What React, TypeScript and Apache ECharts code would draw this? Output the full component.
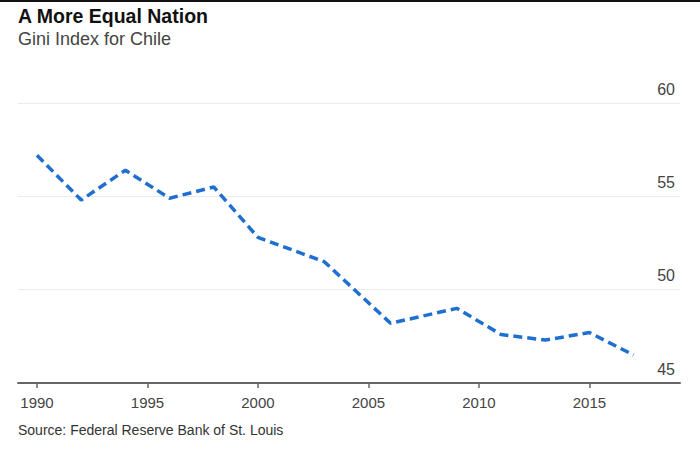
import React, { useEffect, useRef } from "react";
import * as echarts from "echarts";

const years = [1990, 1992, 1994, 1996, 1998, 2000, 2003, 2006, 2009, 2011, 2013, 2015, 2017];
const gini = [57.2, 54.8, 56.4, 54.9, 55.5, 52.8, 51.5, 48.2, 49.0, 47.6, 47.3, 47.7, 46.5];
const xTicks = [1990, 1995, 2000, 2005, 2010, 2015];
const yTicks = [45, 50, 55, 60];

const title = "A More Equal Nation";
const subtitle = "Gini Index for Chile";
const source = "Source: Federal Reserve Bank of St. Louis";

export default function App() {
  const ref = useRef<HTMLDivElement>(null);
  useEffect(() => {
    if (!ref.current) return;
    const chart = echarts.init(ref.current, null, { renderer: "svg" });
    const font = "Liberation Sans, Arial, sans-serif";
    chart.setOption({
      animation: false,
      backgroundColor: "#ffffff",
      textStyle: { fontFamily: font },
      graphic: [
        { type: "rect", shape: { x: 0, y: 0, width: 700, height: 2 }, style: { fill: "#111" } },
        {
          type: "text",
          left: 18,
          top: 6,
          style: { text: title, font: `bold 19.5px ${font}`, fill: "#111" },
        },
        {
          type: "text",
          left: 18,
          top: 30,
          style: { text: subtitle, font: `18px ${font}`, fill: "#444" },
        },
        {
          type: "text",
          left: 18,
          top: 423,
          style: { text: source, font: `14px ${font}`, fill: "#333" },
        },
      ],
      grid: { left: 18, right: 20, top: 103, bottom: 67, containLabel: false },
      xAxis: {
        type: "value",
        min: 1989.14,
        max: 2019.1,
        splitLine: { show: false },
        axisLine: { show: true, lineStyle: { color: "#666", width: 2 } },
        axisTick: {
          show: true,
          customValues: xTicks,
          length: 5,
          lineStyle: { color: "#666", width: 1.5 },
        },
        axisLabel: {
          customValues: xTicks,
          color: "#444",
          fontSize: 15,
          margin: 12,
          formatter: (v: number) => String(v),
        },
      },
      yAxis: {
        type: "value",
        position: "right",
        min: 45,
        max: 60,
        interval: 5,
        axisLine: { show: false },
        axisTick: { show: false },
        splitLine: { show: true, lineStyle: { color: "#ebebeb", width: 1 } },
        axisLabel: {
          inside: true,
          color: "#444",
          fontSize: 16,
          margin: 5,
          align: "right",
          verticalAlign: "bottom",
          padding: [0, 0, 6, 0],
          customValues: yTicks,
        },
      },
      series: [
        {
          type: "line",
          data: years.map((y, i) => [y, gini[i]]),
          showSymbol: false,
          symbol: "none",
          lineStyle: { color: "#1f6fd1", width: 3.5, type: [9, 5] },
        },
      ],
    });
    return () => chart.dispose();
  }, []);
  return <div ref={ref} style={{ width: 700, height: 450, position: "absolute", left: 0, top: 0 }} />;
}
